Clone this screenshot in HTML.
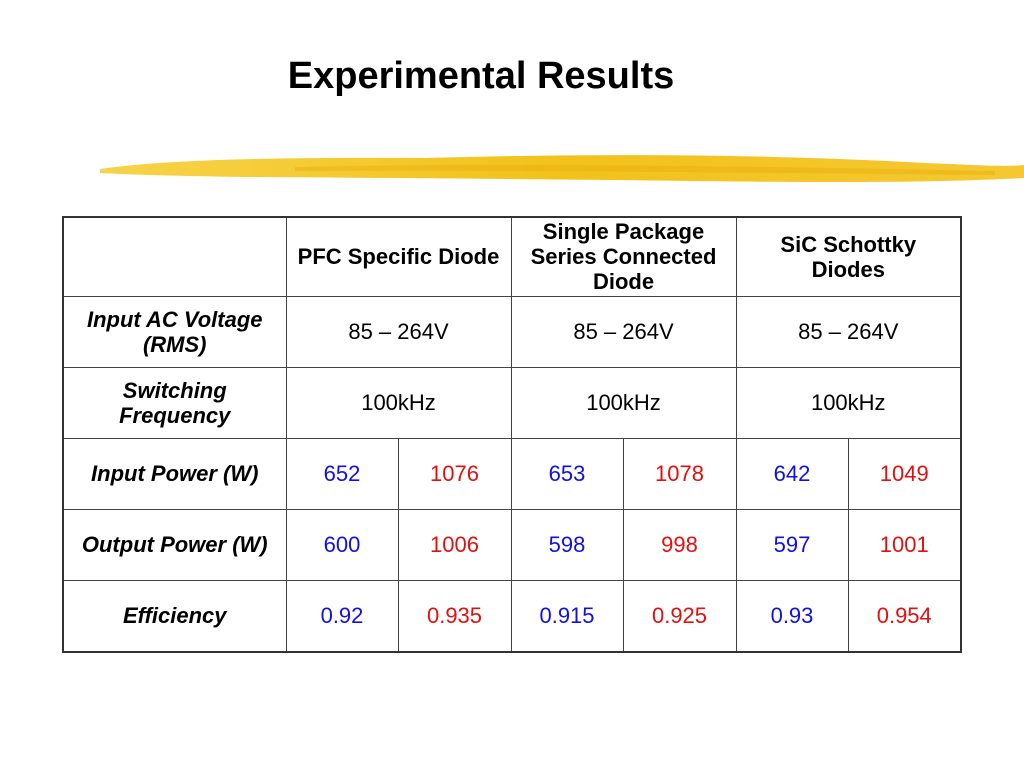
<!DOCTYPE html>
<html><head><meta charset="utf-8"><style>
html,body{margin:0;padding:0;background:#fff;}
body{width:1024px;height:768px;position:relative;overflow:hidden;font-family:"Liberation Sans",Arial,sans-serif;}
#title{position:absolute;left:0;top:55px;width:962px;text-align:center;font-size:38px;font-weight:bold;color:#000;}
#brush{position:absolute;left:95px;top:145px;}
table{position:absolute;left:62px;top:216px;border-collapse:collapse;border:2px solid #333;table-layout:fixed;width:898px;}
td{border:1px solid #444;text-align:center;vertical-align:middle;font-size:22px;color:#000;padding:0;line-height:25px;white-space:nowrap;}
td.h{font-weight:bold;}
td.r{font-weight:bold;font-style:italic;}
.b{color:#1010e0;}
.red{color:#e01010;}
</style></head><body>
<div id="title">Experimental Results</div>
<svg id="brush" width="929" height="45">
<defs><linearGradient id="g" x1="0" x2="1"><stop offset="0" stop-color="#f6d34a"/><stop offset="0.5" stop-color="#f2c21a"/><stop offset="1" stop-color="#f5c832"/></linearGradient></defs>
<path d="M5 24 C60 16 150 12 330 13 C480 9 650 8 830 18 C880 20 910 22 929 20 L929 33 C850 37 760 38 600 36 C450 34 300 33 150 32 C90 31 40 30 5 28 Z" fill="url(#g)"/>
<path d="M200 22 C400 18 600 20 900 26 L900 30 C600 27 400 25 200 26Z" fill="#e8b010" opacity="0.5"/>
</svg>
<table>
<colgroup><col style="width:223px"><col style="width:112px"><col style="width:113px"><col style="width:112px"><col style="width:113px"><col style="width:112px"><col style="width:113px"></colgroup>
<tr style="height:79px"><td></td>
<td class="h" colspan="2">PFC Specific Diode</td>
<td class="h" colspan="2">Single Package<br>Series Connected<br>Diode</td>
<td class="h" colspan="2">SiC Schottky<br>Diodes</td></tr>
<tr style="height:71px"><td class="r">Input AC Voltage<br>(RMS)</td>
<td colspan="2">85 – 264V</td><td colspan="2">85 – 264V</td><td colspan="2">85 – 264V</td></tr>
<tr style="height:71px"><td class="r">Switching<br>Frequency</td>
<td colspan="2">100kHz</td><td colspan="2">100kHz</td><td colspan="2">100kHz</td></tr>
<tr style="height:71px"><td class="r">Input Power (W)</td>
<td class="b">652</td><td class="red">1076</td><td class="b">653</td><td class="red">1078</td><td class="b">642</td><td class="red">1049</td></tr>
<tr style="height:71px"><td class="r">Output Power (W)</td>
<td class="b">600</td><td class="red">1006</td><td class="b">598</td><td class="red">998</td><td class="b">597</td><td class="red">1001</td></tr>
<tr style="height:72px"><td class="r">Efficiency</td>
<td class="b">0.92</td><td class="red">0.935</td><td class="b">0.915</td><td class="red">0.925</td><td class="b">0.93</td><td class="red">0.954</td></tr>
</table>
</body></html>
